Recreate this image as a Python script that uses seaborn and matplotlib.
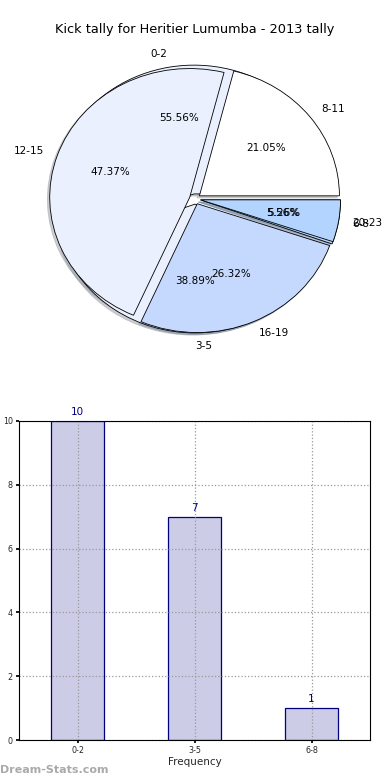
import matplotlib
matplotlib.use("Agg")
import matplotlib.pyplot as plt
import seaborn as sns
import pandas as pd

sns.set_theme(style="white")
plt.rcParams['font.family'] = ['DejaVu Sans']

title = "Kick tally for Heritier Lumumba - 2013 tally"
pie1_labels = ["0-2", "3-5", "6-8"]
pie1_values = [10, 7, 1]
pie2_labels = ["8-11", "12-15", "16-19", "20-23"]
pie2_values = [4, 9, 5, 1]
bar_labels = ["0-2", "3-5", "6-8"]
bar_values = [10, 7, 1]

pie1_colors = ["#eaf0fe", "#eaf0fe", "#b3d4ff"]
pie2_colors = ["#ffffff", "#eaf0fe", "#c5d9fe", "#b3d4ff"]

fig = plt.figure(figsize=(3.9, 7.8), dpi=100)

fig.text(0.5, 1 - 30 / 780, title, ha="center", va="center", fontsize=9.3, color="black")

# Pie axes
pos = [20 / 390, 1 - 360 / 780, 350 / 390, 322 / 780]
axp = fig.add_axes(pos)
for labels, values, colors in [(pie1_labels, pie1_values, pie1_colors),
                               (pie2_labels, pie2_values, pie2_colors)]:
    wedges, texts, autotexts = axp.pie(
        values, labels=labels, colors=colors, explode=[0.04] * len(values),
        autopct="%.2f%%", shadow={"ox": -0.012, "oy": -0.012, "shade": 0.35},
        startangle=0, labeldistance=1.1,
        pctdistance=0.6, wedgeprops=dict(edgecolor="black", linewidth=0.6))
    for t in texts + autotexts:
        t.set_fontsize(7.5)
        t.set_color("black")
axp.set_aspect("auto")
axp.set_xlim(-1.25, 1.25)
axp.set_ylim(-1.25, 1.25)
axp.set_position(pos)

# Bar axes
axb = fig.add_axes([19 / 390, 1 - 740 / 780, 351 / 390, 319 / 780])
df = pd.DataFrame({"cat": bar_labels, "val": bar_values})
sns.barplot(data=df, x="cat", y="val", ax=axb, width=0.45,
            color=(0.8, 0.8, 0.9), edgecolor="navy", linewidth=0.9,
            saturation=1)
for p, v in zip(axb.patches, bar_values):
    axb.text(p.get_x() + p.get_width() / 2, v + 0.12, str(v), ha="center",
             va="bottom", color="navy", fontsize=7.5)
axb.set_xlim(-0.5, 2.5)
axb.set_ylim(0, 10)
axb.set_yticks([0, 2, 4, 6, 8, 10])
axb.grid(True, linestyle=":", color="#999999", linewidth=0.9)
axb.set_axisbelow("line")
for p in axb.patches:
    p.set_zorder(1)
axb.tick_params(axis="both", labelsize=5.8, length=2.5, color="black",
                direction="out", left=True, bottom=True, pad=2)
for s in axb.spines.values():
    s.set_color("black")
    s.set_linewidth(0.8)
    s.set_zorder(3)
axb.set_xlabel("Frequency", fontsize=7.5, labelpad=1)
axb.set_ylabel("Goal Minutes", fontsize=7, labelpad=10)

fig.text(0.0, 1 - 770 / 780, "Dream-Stats.com", ha="left", va="center",
         fontsize=8, color="#aaaaaa", fontweight="bold")

fig.savefig("out.png", dpi=100)
